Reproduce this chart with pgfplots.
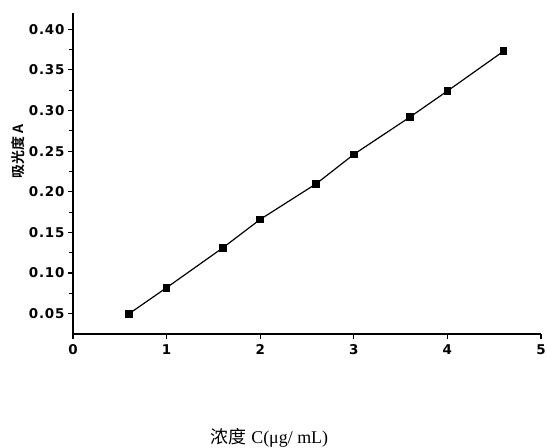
\documentclass[border=0pt]{standalone}
\usepackage{pgfplots}
\pgfplotsset{compat=1.18}
\usepackage{fontspec}
\setmainfont{Liberation Serif}
\newfontfamily\tickfont{DejaVu Sans}[LetterSpace=6]
\newfontfamily\cjk{Noto Sans CJK SC}
\newfontfamily\cjkbold{Noto Sans CJK SC Bold}
\begin{document}
\begin{tikzpicture}
\path[use as bounding box] (-73bp,-114bp) rectangle (474bp,334bp);
\begin{axis}[
  scale only axis,
  width=468bp, height=321bp,
  at={(0,0)}, anchor=south west,
  xmin=0, xmax=5, ymin=0.025, ymax=0.42,
  axis lines*=left,
  axis line style={line width=1.6pt},
  every tick/.style={black, line width=1.2pt},
  tick align=outside,
  major tick length=5bp,
  minor tick length=4bp,
  xtick={0,1,2,3,4,5},
  ytick={0.05,0.10,0.15,0.20,0.25,0.30,0.35,0.40},
  minor ytick={0.075,0.125,0.175,0.225,0.275,0.325,0.375},
  yticklabel style={/pgf/number format/.cd, fixed, fixed zerofill, precision=2},
  /pgf/number format/assume math mode=true,
  ticklabel style={font=\tickfont\bfseries\fontsize{13.5}{15}\selectfont},
  xticklabel style={yshift=-2bp},
  xlabel={{\cjk 浓度} C(μg/ mL)},
  xlabel style={at={(axis description cs:0.42,0)}, anchor=center, yshift=-104bp, font=\fontsize{18}{20}\selectfont},
  ylabel={\cjkbold 吸光度 A},
  ylabel style={at={(axis description cs:0,0.57)}, anchor=center, yshift=55bp, font=\fontsize{14}{16}\selectfont},
  clip=false,
]
\addplot[black, line width=1.2pt, mark=square*, mark size=3.3bp, mark options={solid}] coordinates {
(0.6,0.050) (1.0,0.082) (1.6,0.131) (2.0,0.166) (2.6,0.210) (3.0,0.246) (3.6,0.292) (4.0,0.324) (4.6,0.373)
};
\end{axis}
\end{tikzpicture}
\end{document}
